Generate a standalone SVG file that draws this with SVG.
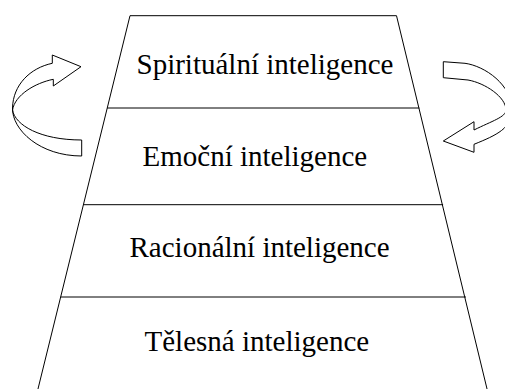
<svg xmlns="http://www.w3.org/2000/svg" width="505" height="389" viewBox="0 0 505 389">
<style>
.ln{stroke:#000;stroke-width:1;fill:none}
.arr{stroke:#000;stroke-width:1;fill:#fff;stroke-linejoin:miter}
.lbl{font-family:"Liberation Serif","Times New Roman",serif;font-size:29px;fill:#000}
</style>
<rect width="505" height="389" fill="#fff"/>
<g id="pyramid">
<path class="ln" d="M36.5,395 L130,15.7 L396.5,15.7 L488.5,395"/>
</g>
<g id="level-spiritual">
<line class="ln" x1="107.2" y1="108" x2="419.3" y2="108"/>
<text class="lbl" x="136.5" y="74">Spirituální inteligence</text>
</g>
<g id="level-emotional">
<line class="ln" x1="83.4" y1="204.7" x2="443.1" y2="204.7"/>
<text class="lbl" x="142.5" y="166">Emoční inteligence</text>
</g>
<g id="level-rational">
<line class="ln" x1="60.7" y1="297" x2="465.9" y2="297"/>
<text class="lbl" x="129.5" y="257">Racionální inteligence</text>
</g>
<g id="level-physical">
<text class="lbl" x="144.5" y="351">Tělesná inteligence</text>
</g>
<g id="connectors">
<path class="arr" d="M81.7,156 C40,156 12,130 12.5,108 C13,85 30,68 52.3,63.3 L52.3,55 L81,66.7 L53.3,86 L53.3,79.3 C35,83 15,95 12.5,110 C15,125 40,140 81.7,140 Z"/>
<path class="arr" d="M443.3,61.7 L465,63.3 C485,66 512,85 512,110 C512,128 497,135 474,144.3 L474,152.3 L443.3,141 L474,121.7 L474,130 C492,121 506,117 506,110 C506,97 485,83 468,80 L443.3,77.7 Z"/>
</g>
</svg>
